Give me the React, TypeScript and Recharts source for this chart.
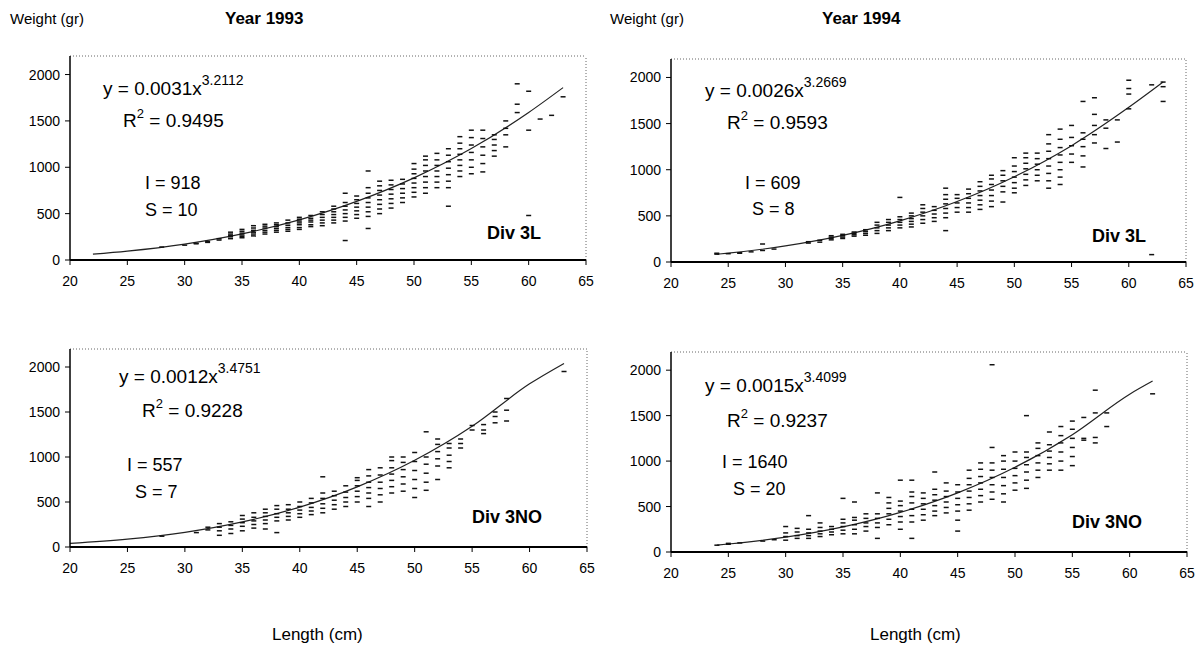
import React from 'react';
import { ComposedChart, Scatter, Line, XAxis, YAxis, ReferenceLine } from 'recharts';

const xTicks = [20, 25, 30, 35, 40, 45, 50, 55, 60, 65];
const yTicks = [0, 500, 1000, 1500, 2000];

// ---- 1993 Div 3L ----
const len93L = [28, 30, 31, 32, 33, 34, 35, 36, 37, 38, 39, 40, 41, 42, 43, 44, 45, 46, 47, 48, 49, 50, 51, 52, 53, 54, 55, 56, 57, 58, 59, 60, 61, 62, 63];
const wt93L = [
  [140], [160], [175, 180], [190, 200], [215, 230],
  [230, 250, 265, 280, 300], [240, 255, 270, 290, 310, 330], [260, 280, 300, 320, 345, 370],
  [280, 300, 320, 345, 365, 385], [300, 320, 340, 360, 380, 400], [310, 330, 350, 375, 400, 430],
  [330, 350, 380, 400, 420, 440, 460], [360, 380, 410, 430, 450, 480], [370, 400, 430, 460, 490, 520],
  [400, 430, 460, 490, 520, 550, 580], [210, 420, 460, 500, 540, 580, 620, 720], [450, 490, 530, 570, 610, 650, 690],
  [340, 470, 520, 570, 620, 670, 720, 780, 960], [500, 550, 600, 650, 700, 750, 800, 850], [560, 610, 660, 710, 760, 810, 860],
  [620, 670, 720, 770, 820, 870], [680, 730, 780, 830, 880, 930, 980, 1040], [720, 780, 840, 900, 960, 1020, 1080, 1120],
  [780, 840, 900, 960, 1020, 1080, 1150], [580, 780, 850, 920, 990, 1060, 1130, 1200], [900, 960, 1020, 1080, 1140, 1200, 1260, 1330],
  [930, 1000, 1080, 1160, 1240, 1320, 1400], [950, 1040, 1130, 1220, 1310, 1400], [1120, 1180, 1240, 1300, 1350],
  [1220, 1350, 1420, 1500], [1590, 1680, 1900], [480, 1400, 1820], [1520], [1560], [1760],
];
const curveLen93L = [22, 25, 30, 35, 40, 45, 50, 55, 60, 63];
const curveWt93L = [63, 96, 172, 282, 433, 632, 886, 1202, 1591, 1859];

// ---- 1994 Div 3L ----
const len94L = [24, 25, 26, 27, 28, 29, 32, 33, 34, 35, 36, 37, 38, 39, 40, 41, 42, 43, 44, 45, 46, 47, 48, 49, 50, 51, 52, 53, 54, 55, 56, 57, 58, 59, 60, 62, 63];
const wt94L = [
  [85, 95], [90], [95, 100], [110], [125, 195], [140], [205, 220], [215, 235],
  [240, 255, 270, 285], [255, 270, 285, 300], [280, 295, 310, 325], [290, 310, 330, 350],
  [310, 340, 370, 400, 430], [340, 370, 400, 430, 460], [370, 400, 430, 460, 490, 700],
  [380, 410, 440, 470, 500, 530], [420, 460, 500, 540, 580, 620], [440, 480, 520, 560, 600],
  [340, 480, 530, 580, 630, 680, 730, 800], [540, 590, 640, 690, 730], [540, 590, 640, 690, 740, 790],
  [570, 620, 670, 720, 770, 820, 870], [600, 660, 720, 780, 840, 900, 940], [650, 760, 820, 880, 940, 990],
  [750, 800, 860, 920, 980, 1040, 1130], [830, 890, 950, 1010, 1070, 1130, 1180], [880, 940, 1000, 1060, 1120, 1180],
  [800, 880, 960, 1040, 1120, 1200, 1280, 1380], [840, 920, 1000, 1080, 1160, 1240, 1330, 1440],
  [1080, 1170, 1260, 1350, 1480], [1030, 1150, 1250, 1330, 1400, 1740], [1290, 1380, 1480, 1600, 1780],
  [1230, 1450, 1540], [1300, 1540], [1660, 1820, 1880, 1970], [80, 1920], [1740, 1900, 1950],
];
const curveLen94L = [24, 25, 30, 35, 40, 45, 50, 55, 60, 63];
const curveWt94L = [84, 96, 174, 288, 446, 655, 924, 1261, 1676, 1950];

// ---- 1993 Div 3NO ----
const len93N = [28, 31, 32, 33, 34, 35, 36, 37, 38, 39, 40, 41, 42, 43, 44, 45, 46, 47, 48, 49, 50, 51, 52, 53, 54, 55, 56, 57, 58, 63];
const wt93N = [
  [120], [160], [190, 220], [130, 180, 220, 260], [150, 200, 240, 280], [180, 230, 270, 310, 350],
  [210, 250, 290, 330, 380], [200, 260, 300, 340, 380, 420], [160, 290, 330, 370, 420, 460],
  [300, 340, 380, 420, 470], [330, 370, 410, 450, 500], [360, 400, 440, 490, 540],
  [380, 430, 480, 540, 600, 780], [420, 470, 520, 570, 620], [450, 500, 550, 610, 680],
  [500, 560, 620, 680, 740, 770], [450, 540, 600, 660, 720, 790, 860], [500, 580, 650, 720, 800, 880],
  [600, 670, 740, 810, 880, 960, 1000], [620, 700, 780, 860, 940, 1000], [550, 650, 750, 850, 950, 1050],
  [630, 720, 820, 920, 1000, 1280], [750, 900, 980, 1060, 1140, 1200], [880, 950, 1020, 1100, 1150],
  [1100, 1150, 1200], [1300, 1350], [1260, 1300, 1360], [1380, 1450, 1500], [1400, 1520, 1650], [1950],
];
const curveLen93N = [20, 25, 30, 35, 40, 45, 50, 55, 60, 63];
const curveWt93N = [40, 87, 163, 279, 443, 668, 963, 1341, 1813, 2040];

// ---- 1994 Div 3NO ----
const len94N = [24, 25, 26, 28, 29, 30, 31, 32, 33, 34, 35, 36, 37, 38, 39, 40, 41, 42, 43, 44, 45, 46, 47, 48, 49, 50, 51, 52, 53, 54, 55, 56, 57, 58, 62];
const wt94N = [
  [75], [85, 95], [100], [120], [135], [130, 170, 210, 280], [150, 180, 220, 260], [150, 180, 210, 250, 400],
  [170, 200, 230, 270, 320], [190, 220, 250, 280], [200, 240, 280, 320, 360, 590], [200, 250, 300, 350, 380, 550],
  [230, 280, 320, 370, 420], [150, 270, 320, 370, 420, 650], [300, 360, 420, 480, 540, 600],
  [250, 330, 390, 450, 510, 560, 790], [150, 330, 400, 470, 540, 610, 660, 790], [350, 410, 470, 530, 590, 650],
  [400, 450, 510, 570, 630, 690, 880], [430, 490, 550, 610, 670, 760], [230, 350, 450, 520, 590, 660, 740],
  [460, 530, 600, 670, 740, 810, 900], [550, 620, 690, 760, 830, 910, 980], [580, 660, 740, 820, 900, 980, 1150, 2060],
  [550, 640, 730, 820, 910, 1000, 1060], [680, 760, 840, 920, 1000, 1100], [700, 790, 880, 960, 1040, 1100, 1500],
  [820, 900, 980, 1060, 1140, 1200], [900, 970, 1040, 1110, 1180, 1320], [900, 1000, 1100, 1200, 1280, 1380],
  [950, 1050, 1150, 1250, 1350, 1440], [1230, 1250, 1480], [1200, 1260, 1530, 1780], [1380, 1530], [1740],
];
const curveLen94N = [24, 25, 30, 35, 40, 45, 50, 55, 60, 62];
const curveWt94N = [76, 88, 163, 276, 436, 651, 932, 1291, 1736, 1880];

const FONT = '"Liberation Sans", Arial, sans-serif';

const toPoints = (lens: number[], wts: number[][]) =>
  lens.flatMap((l, i) => wts[i].map((w) => ({ x: l, y: w })));
const toCurve = (lens: number[], wts: number[]) => lens.map((l, i) => ({ x: l, y: wts[i] }));

const Dash = (p: any) => {
  if (p.cx == null || p.cy == null) return null;
  return <line x1={p.cx - 2.5} x2={p.cx + 2.5} y1={p.cy} y2={p.cy} stroke="#111" strokeWidth={1.5} />;
};

const YW = 60;
const XH = 30;

type PanelProps = {
  left: number; top: number; width: number; height: number;
  plot: { top: number; right: number; bottom: number; left: number };
  points: { x: number; y: number }[];
  curve: { x: number; y: number }[];
};

const Panel = ({ left, top, width, height, plot, points, curve }: PanelProps) => (
  <div style={{ position: 'absolute', left, top }}>
    <ComposedChart width={width} height={height}
      margin={{ top: plot.top, right: plot.right, bottom: plot.bottom - XH, left: plot.left - YW }}>
      <XAxis
        type="number" dataKey="x" domain={[20, 65]} ticks={xTicks} height={XH}
        allowDataOverflow
        axisLine={{ stroke: '#000', strokeWidth: 2 }} tickLine={{ stroke: '#000' }}
        tickSize={5} tickMargin={11}
        tick={{ fontSize: 14, fill: '#000', fontFamily: FONT }}
      />
      <YAxis
        type="number" dataKey="y" domain={[0, 2200]} ticks={yTicks} width={YW}
        allowDataOverflow
        axisLine={{ stroke: '#000', strokeWidth: 1.5 }} tickLine={{ stroke: '#000' }}
        tickSize={5} tickMargin={5}
        tick={{ fontSize: 14, fill: '#000', fontFamily: FONT }}
      />
      <ReferenceLine y={2200} stroke="#666" strokeDasharray="1 2" />
      <ReferenceLine x={65} stroke="#666" strokeDasharray="1 2" />
      <Scatter data={points} dataKey="y" shape={Dash} isAnimationActive={false} />
      <Line data={curve} dataKey="y" type="monotone" stroke="#222" strokeWidth={1.2} dot={false} isAnimationActive={false} />
    </ComposedChart>
  </div>
);

const T = ({ x, y, size, bold, children }: { x: number; y: number; size: number; bold?: boolean; children: React.ReactNode }) => (
  <div style={{
    position: 'absolute', left: x, top: y, transform: 'translateY(-50%)', fontSize: size,
    fontWeight: bold ? 'bold' : 'normal', lineHeight: 1, whiteSpace: 'nowrap', color: '#000', fontFamily: FONT,
  }}>{children}</div>
);

const Sup = ({ children, size }: { children: React.ReactNode; size: number }) => (
  <span style={{ fontSize: size, position: 'relative', top: '-0.7em' }}>{children}</span>
);

const Stats = ({ x, y, eq, exp, r2, i, s, ix, iy, sx, sy, rx, ry, div, dx, dy }: any) => (
  <>
    <T x={x} y={y} size={19}>y = {eq}x<Sup size={14}>{exp}</Sup></T>
    <T x={rx} y={ry} size={19}>R<Sup size={13}>2</Sup> = {r2}</T>
    <T x={ix} y={iy} size={18}>I = {i}</T>
    <T x={sx} y={sy} size={18}>S = {s}</T>
    <T x={dx} y={dy} size={18} bold>{div}</T>
  </>
);

export default function App() {
  return (
    <div style={{ position: 'absolute', left: 0, top: 0, width: 1202, height: 646, background: '#fff', fontFamily: FONT, overflow: 'hidden' }}>
      <Panel left={0} top={0} width={600} height={300}
        plot={{ top: 56, right: 14, bottom: 40, left: 70 }}
        points={toPoints(len93L, wt93L)} curve={toCurve(curveLen93L, curveWt93L)} />
      <Panel left={600} top={0} width={602} height={300}
        plot={{ top: 59, right: 16, bottom: 38, left: 71 }}
        points={toPoints(len94L, wt94L)} curve={toCurve(curveLen94L, curveWt94L)} />
      <Panel left={0} top={300} width={600} height={346}
        plot={{ top: 49, right: 13, bottom: 99, left: 70 }}
        points={toPoints(len93N, wt93N)} curve={toCurve(curveLen93N, curveWt93N)} />
      <Panel left={600} top={300} width={602} height={346}
        plot={{ top: 52, right: 15, bottom: 94, left: 71 }}
        points={toPoints(len94N, wt94N)} curve={toCurve(curveLen94N, curveWt94N)} />

      <T x={10} y={18} size={15}>Weight (gr)</T>
      <T x={225} y={18} size={17} bold>Year 1993</T>
      <T x={610} y={18} size={15}>Weight (gr)</T>
      <T x={822} y={18} size={17} bold>Year 1994</T>

      <Stats x={103} y={88} eq="0.0031" exp="3.2112" rx={123} ry={120} r2="0.9495"
        ix={145} iy={183} i="918" sx={145} sy={210} s="10" div="Div 3L" dx={487} dy={233} />
      <Stats x={705} y={90} eq="0.0026" exp="3.2669" rx={727} ry={122} r2="0.9593"
        ix={745} iy={183} i="609" sx={752} sy={209} s="8" div="Div 3L" dx={1092} dy={236} />
      <Stats x={119} y={376} eq="0.0012" exp="3.4751" rx={142} ry={410} r2="0.9228"
        ix={127} iy={465} i="557" sx={135} sy={492} s="7" div="Div 3NO" dx={472} dy={517} />
      <Stats x={705} y={385} eq="0.0015" exp="3.4099" rx={727} ry={420} r2="0.9237"
        ix={722} iy={462} i="1640" sx={733} sy={489} s="20" div="Div 3NO" dx={1072} dy={522} />

      <T x={272} y={634} size={17}>Length (cm)</T>
      <T x={870} y={634} size={17}>Length (cm)</T>
    </div>
  );
}
